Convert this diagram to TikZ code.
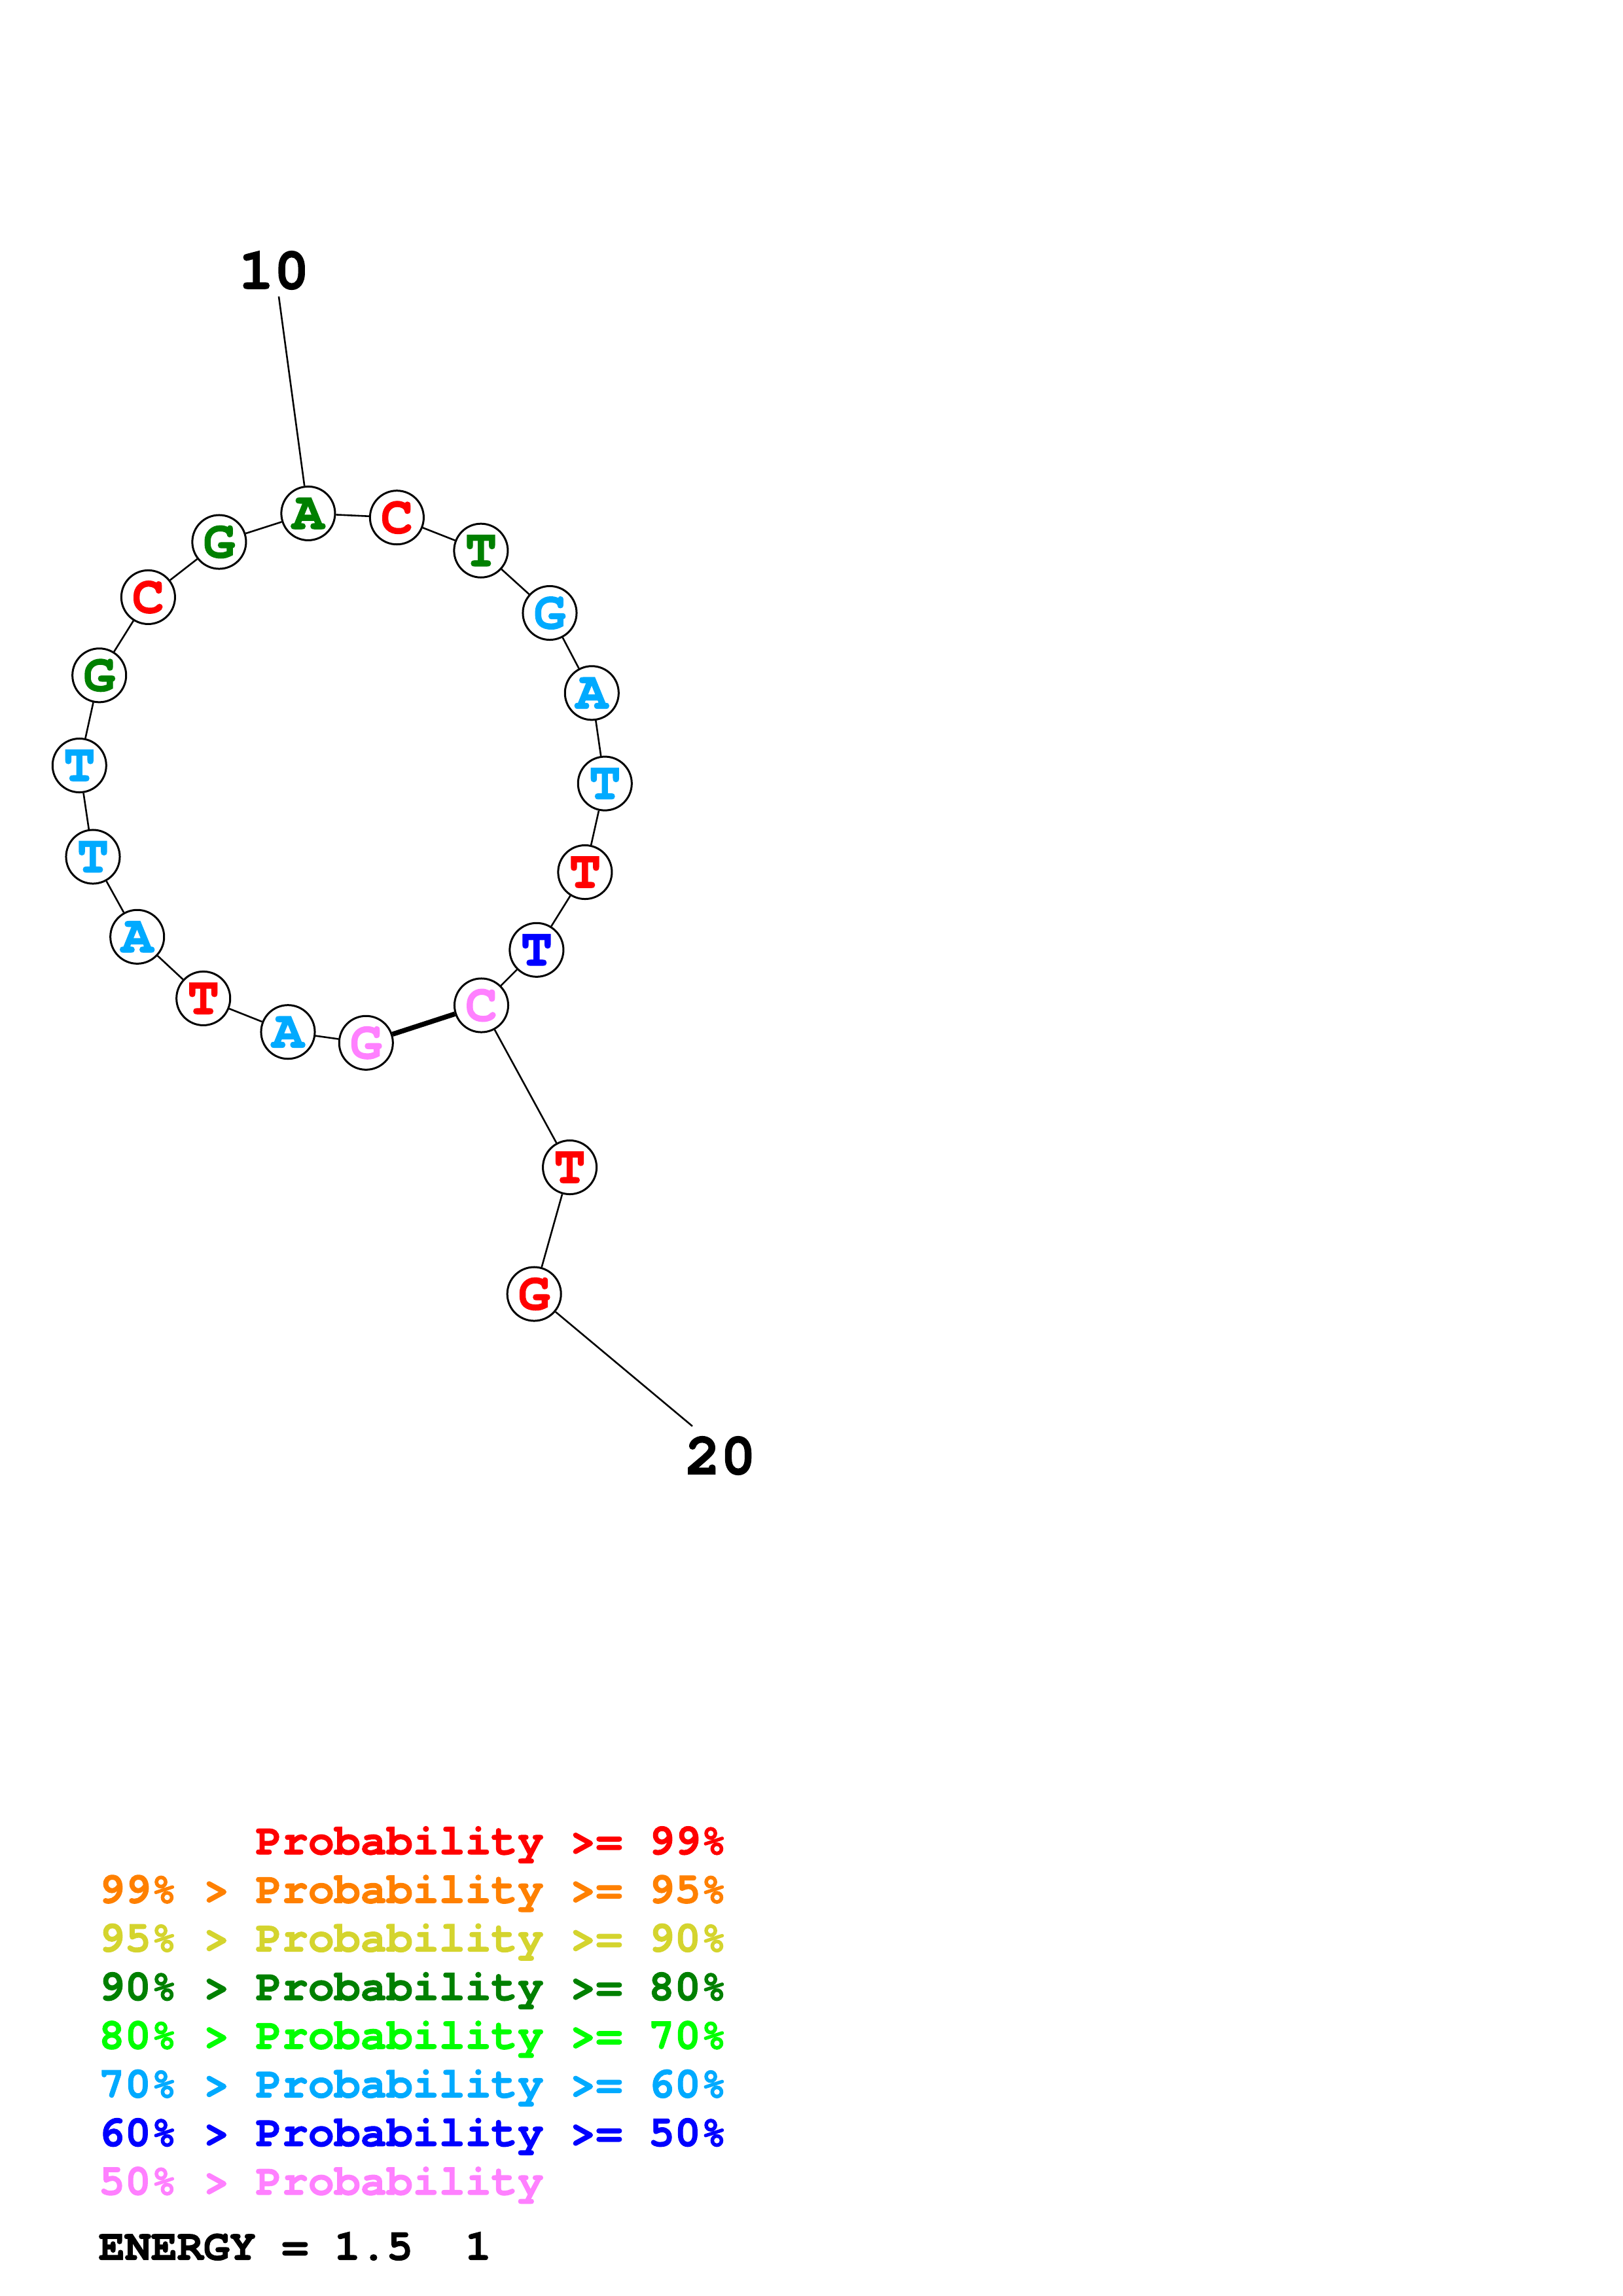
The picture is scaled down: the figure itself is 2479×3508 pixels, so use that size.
\documentclass[tikz,border=0pt]{standalone}
\usepackage{fontspec}
\setmainfont[BoldFeatures={FakeBold=1.6}]{TeX Gyre Cursor}
\definecolor{pr}{HTML}{FF0000}
\definecolor{po}{HTML}{FF8000}
\definecolor{py}{HTML}{D4D42E}
\definecolor{pdg}{HTML}{008000}
\definecolor{pg}{HTML}{00FF00}
\definecolor{plb}{HTML}{00AAFF}
\definecolor{pb}{HTML}{0000FF}
\definecolor{pk}{HTML}{FF80FF}
\begin{document}
\begin{tikzpicture}[x=0.24bp,y=-0.24bp,
  base/.style={circle,draw=black,line width=0.72bp,fill=white,minimum size=19.7bp,inner sep=0pt,font=\fontsize{19.5bp}{19.5bp}\selectfont\bfseries},
  bb/.style={line width=0.62bp},
  pairline/.style={line width=1.8bp},
  num/.style={font=\fontsize{21.6bp}{21.6bp}\selectfont\bfseries,inner sep=0pt},
  leg/.style={anchor=base west,inner sep=0pt,font=\fontsize{16bp}{16bp}\selectfont\bfseries}]
\fill[white] (0,0) rectangle (2479,3508);
\useasboundingbox (0,0) rectangle (2479,3508);
% nucleotides
\node[base,text=pk]  (n1)  at (559.3,1593.3) {G};
\node[base,text=plb] (n2)  at (440.0,1576.7) {A};
\node[base,text=pr]  (n3)  at (310.7,1525.4) {T};
\node[base,text=plb] (n4)  at (209.7,1431.3) {A};
\node[base,text=plb] (n5)  at (142.0,1309.0) {T};
\node[base,text=plb] (n6)  at (121.3,1169.5) {T};
\node[base,text=pdg] (n7)  at (151.7,1031.8) {G};
\node[base,text=pr]  (n8)  at (226.4,912.4) {C};
\node[base,text=pdg] (n9)  at (334.9,828.0) {G};
\node[base,text=pdg] (n10) at (470.9,784.4) {A};
\node[base,text=pr]  (n11) at (606.4,790.7) {C};
\node[base,text=pdg] (n12) at (734.9,841.2) {T};
\node[base,text=plb] (n13) at (840.0,936.5) {G};
\node[base,text=plb] (n14) at (904.3,1058.8) {A};
\node[base,text=plb] (n15) at (924.3,1197.1) {T};
\node[base,text=pr]  (n16) at (893.9,1332.5) {T};
\node[base,text=pb]  (n17) at (819.9,1451.3) {T};
\node[base,text=pk]  (n18) at (735.5,1536.0) {C};
\node[base,text=pr]  (n19) at (870.6,1783.5) {T};
\node[base,text=pr]  (n20) at (816.2,1977.0) {G};
% backbone
\draw[bb] (n1) -- (n2);
\draw[bb] (n2) -- (n3);
\draw[bb] (n3) -- (n4);
\draw[bb] (n4) -- (n5);
\draw[bb] (n5) -- (n6);
\draw[bb] (n6) -- (n7);
\draw[bb] (n7) -- (n8);
\draw[bb] (n8) -- (n9);
\draw[bb] (n9) -- (n10);
\draw[bb] (n10) -- (n11);
\draw[bb] (n11) -- (n12);
\draw[bb] (n12) -- (n13);
\draw[bb] (n13) -- (n14);
\draw[bb] (n14) -- (n15);
\draw[bb] (n15) -- (n16);
\draw[bb] (n16) -- (n17);
\draw[bb] (n17) -- (n18);
\draw[bb] (n18) -- (n19);
\draw[bb] (n19) -- (n20);
% pair
\draw[pairline] (n1) -- (n18);
% numbering
\node[num] (l10) at (418.7,413) {10};
\coordinate (t10) at (426,453);
\draw[bb] (n10) -- (t10);
\node[num] (l20) at (1101,2224) {20};
\coordinate (t20) at (1058,2179);
\draw[bb] (n20) -- (t20);
% legend
\node[leg,text=pr]  (r1) at (150,2833.0) {~~~~~~Probability~>=~99\%};
\node[leg,text=po]  (r2) at (150,2907.3) {99\%~>~Probability~>=~95\%};
\node[leg,text=py]  (r3) at (150,2981.6) {95\%~>~Probability~>=~90\%};
\node[leg,text=pdg] (r4) at (150,3055.9) {90\%~>~Probability~>=~80\%};
\node[leg,text=pg]  (r5) at (150,3130.2) {80\%~>~Probability~>=~70\%};
\node[leg,text=plb] (r6) at (150,3204.5) {70\%~>~Probability~>=~60\%};
\node[leg,text=pb]  (r7) at (150,3278.8) {60\%~>~Probability~>=~50\%};
\node[leg,text=pk]  (r8) at (150,3353.1) {50\%~>~Probability};
\node[leg,text=black] (en) at (150,3452.6) {ENERGY~=~1.5~~1};
\end{tikzpicture}
\end{document}
